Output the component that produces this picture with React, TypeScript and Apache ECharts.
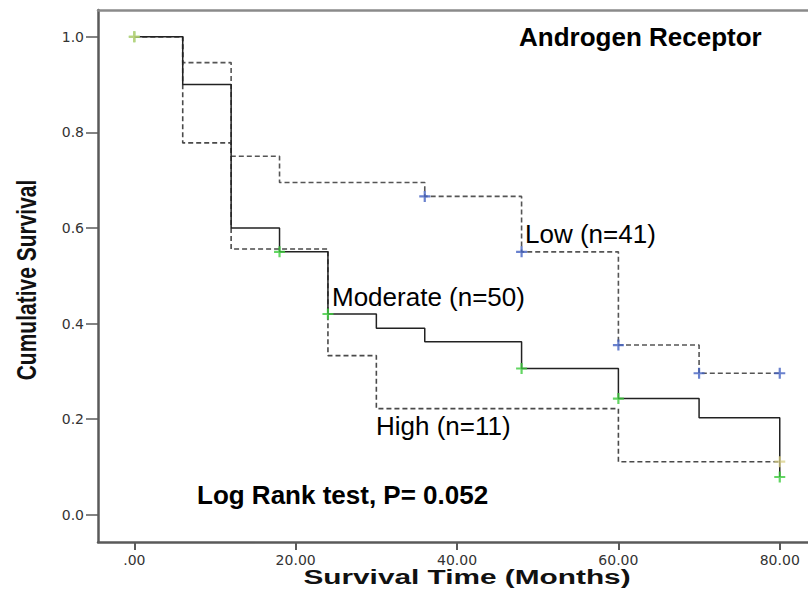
import React, { useEffect, useRef } from "react";
import * as echarts from "echarts";

// Kaplan–Meier estimates by androgen receptor expression (time in months)
const moderateTimes = [0, 6, 12, 18, 24, 30, 36, 48, 60, 70, 80];
const moderateSurvival = [1.0, 0.9, 0.6, 0.55, 0.42, 0.39, 0.362, 0.306, 0.243, 0.203, 0.079];
const lowTimes = [0, 6, 12, 18, 36, 48, 60, 70, 80];
const lowSurvival = [1.0, 0.946, 0.75, 0.695, 0.666, 0.55, 0.355, 0.296, 0.296];
const highTimes = [0, 6, 12, 24, 30, 60, 80];
const highSurvival = [1.0, 0.778, 0.556, 0.333, 0.222, 0.111, 0.111];

// Censored observations
const moderateCensorTimes = [0, 18, 24, 48, 60, 80];
const moderateCensorSurvival = [1.0, 0.55, 0.42, 0.306, 0.243, 0.079];
const lowCensorTimes = [36, 48, 60, 70, 80];
const lowCensorSurvival = [0.666, 0.55, 0.355, 0.296, 0.296];
const highCensorTimes = [0, 80];
const highCensorSurvival = [1.0, 0.111];

const xTicks = [0, 20, 40, 60, 80];
const yTicks = [0, 0.2, 0.4, 0.6, 0.8, 1.0];

const groupLabels = ["Low (n=41)", "Moderate (n=50)", "High (n=11)"];
const panelTitle = "Androgen Receptor";
const testNote = "Log Rank test, P= 0.052";

const pairs = (xs: number[], ys: number[]) => xs.map((x, i) => [x, ys[i]]);

const CROSS = "path://M4,0H6V4H10V6H6V10H4V6H0V4H4Z";
const FONT = '"Liberation Sans", Arial, sans-serif';

export default function App() {
  const ref = useRef<HTMLDivElement>(null);

  useEffect(() => {
    document.body.style.margin = "0";
    const chart = echarts.init(ref.current!, null, { renderer: "svg" });

    const axisLabelStyle = {
      fontFamily: '"DejaVu Sans", sans-serif',
      fontSize: 14,
      color: "#333",
    };

    chart.setOption({
      animation: false,
      backgroundColor: "#fff",
      grid: { left: 98, top: 10, right: 0, bottom: 60 },
      xAxis: [
        {
          type: "value",
          position: "bottom",
          min: -4.5,
          max: 83.5,
          axisLine: { show: true, onZero: false, lineStyle: { color: "#5a5a5a", width: 2.5 } },
          axisTick: {
            show: true,
            length: 8,
            customValues: xTicks,
            lineStyle: { color: "#5a5a5a", width: 2 },
          },
          axisLabel: {
            customValues: xTicks,
            margin: 11,
            ...axisLabelStyle,
            formatter: (v: number) => (v === 0 ? ".00" : v.toFixed(2)),
          },
          splitLine: { show: false },
        },
        {
          type: "value",
          position: "top",
          min: -4.5,
          max: 83.5,
          axisLine: { show: true, onZero: false, lineStyle: { color: "#8a8a8a", width: 2.5 } },
          axisTick: { show: false },
          axisLabel: { show: false },
          splitLine: { show: false },
        },
      ],
      yAxis: {
        type: "value",
        position: "left",
        min: -0.057,
        max: 1.056,
        axisLine: { show: true, onZero: false, lineStyle: { color: "#5a5a5a", width: 2.5 } },
        axisTick: {
          show: true,
          length: 12,
          customValues: yTicks,
          lineStyle: { color: "#5a5a5a", width: 1.5 },
        },
        axisLabel: {
          customValues: yTicks,
          margin: 14,
          ...axisLabelStyle,
          formatter: (v: number) => v.toFixed(1),
        },
        splitLine: { show: false },
      },
      series: [
        {
          name: "High",
          type: "line",
          step: "end",
          data: pairs(highTimes, highSurvival),
          symbol: "none",
          lineStyle: { color: "#4a4a4a", width: 1.6, type: [5, 3] },
          z: 2,
        },
        {
          name: "Low",
          type: "line",
          step: "end",
          data: pairs(lowTimes, lowSurvival),
          symbol: "none",
          lineStyle: { color: "#555", width: 1.6, type: [5, 3] },
          z: 2,
        },
        {
          name: "Moderate",
          type: "line",
          step: "end",
          data: pairs(moderateTimes, moderateSurvival),
          symbol: "none",
          lineStyle: { color: "#222", width: 1.5, type: "solid" },
          z: 3,
        },
        {
          name: "Moderate censored",
          type: "scatter",
          data: pairs(moderateCensorTimes, moderateCensorSurvival),
          symbol: CROSS,
          symbolSize: 11,
          itemStyle: { color: "#3ccc3c" },
          z: 5,
        },
        {
          name: "Low censored",
          type: "scatter",
          data: pairs(lowCensorTimes, lowCensorSurvival),
          symbol: CROSS,
          symbolSize: 11,
          itemStyle: { color: "#4462c2" },
          z: 5,
        },
        {
          name: "High censored",
          type: "scatter",
          data: pairs(highCensorTimes, highCensorSurvival),
          symbol: CROSS,
          symbolSize: 11,
          itemStyle: { color: "#d8cf86", opacity: 0.75 },
          z: 6,
        },
      ],
      graphic: [
        {
          type: "text",
          x: 26,
          y: 280,
          rotation: Math.PI / 2,
          scaleY: 1.35,
          style: {
            text: "Cumulative Survival",
            font: `bold 21px ${FONT}`,
            fill: "#111",
            align: "center",
            verticalAlign: "middle",
          },
        },
        {
          type: "text",
          x: 467,
          y: 577,
          scaleX: 1.42,
          style: {
            text: "Survival Time (Months)",
            font: `bold 21px ${FONT}`,
            fill: "#111",
            align: "center",
            verticalAlign: "middle",
          },
        },
        {
          type: "text",
          x: 519,
          y: 37,
          style: {
            text: panelTitle,
            font: `bold 26px ${FONT}`,
            fill: "#000",
            align: "left",
            verticalAlign: "middle",
          },
        },
        {
          type: "text",
          x: 525,
          y: 234,
          style: { text: groupLabels[0], font: `26px ${FONT}`, fill: "#000", align: "left", verticalAlign: "middle" },
        },
        {
          type: "text",
          x: 332,
          y: 297,
          style: { text: groupLabels[1], font: `26px ${FONT}`, fill: "#000", align: "left", verticalAlign: "middle" },
        },
        {
          type: "text",
          x: 376,
          y: 426,
          style: { text: groupLabels[2], font: `26px ${FONT}`, fill: "#000", align: "left", verticalAlign: "middle" },
        },
        {
          type: "text",
          x: 197,
          y: 495,
          style: {
            text: testNote,
            font: `bold 26px ${FONT}`,
            fill: "#000",
            align: "left",
            verticalAlign: "middle",
          },
        },
      ],
    });

    return () => chart.dispose();
  }, []);

  return (
    <div
      ref={ref}
      style={{ position: "absolute", left: 0, top: 0, width: 808, height: 602 }}
    />
  );
}
